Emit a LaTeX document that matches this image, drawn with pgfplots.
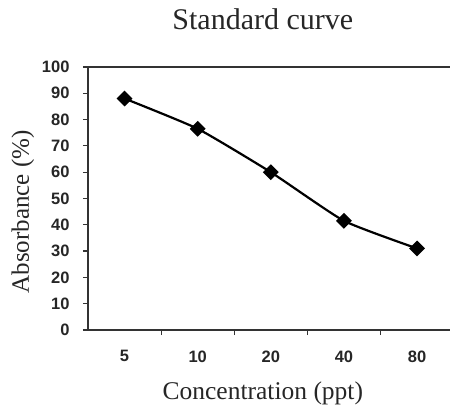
\documentclass[border=0pt]{standalone}
\usepackage{fontspec}
\setmainfont{Liberation Serif}
\newfontfamily\tickfont{Liberation Sans}
\usepackage{pgfplots}
\pgfplotsset{compat=1.18}
\begin{document}
\begin{tikzpicture}
\useasboundingbox (-88pt,-76pt) rectangle (364pt,330pt);
\begin{axis}[
  scale only axis, width=362pt, height=263pt,
  xmin=-0.5, xmax=4.45, ymin=0, ymax=100,
  axis x line*=bottom, axis y line*=left,
  axis line style={line width=1.3pt, black!80},
  clip=false,
  xtick={0.5,1.5,2.5,3.5}, xticklabels={},
  extra x ticks={0,1,2,3,4}, extra x tick labels={5,10,20,40,80},
  extra x tick style={major tick length=0pt},
  ytick={0,10,...,100},
  tick align=outside, major tick length=5pt,
  tick style={line width=1.2pt, black!80},
  /pgf/number format/assume math mode=true,
  ticklabel style={font=\tickfont\bfseries\fontsize{16.5}{16.5}\selectfont, text=black!85},
  yticklabel style={xshift=-10pt},
  xticklabel style={yshift=-17pt},
  title={Standard curve},
  title style={at={(axis description cs:0.483,1.16)}, anchor=center, font=\fontsize{30}{30}\selectfont, text=black!85},
  xlabel={Concentration (ppt)},
  xlabel style={at={(axis description cs:0.483,-0.24)}, anchor=center, font=\fontsize{25.5}{25.5}\selectfont, text=black!85},
  ylabel={Absorbance (\%)},
  ylabel style={at={(axis description cs:-0.18,0.449)}, anchor=center, rotate=0, font=\fontsize{25}{25}\selectfont, text=black!85},
]
\addplot[black, line width=2.2pt, smooth, tension=0.3, mark=square*, mark size=4.5pt, mark options={rotate=45, solid}] coordinates {
  (0,88) (1,76.5) (2,60) (3,41.5) (4,31)
};
\draw[line width=1.3pt, black!80] (axis cs:-0.5,100) -- (axis cs:4.45,100);
\end{axis}
\end{tikzpicture}
\end{document}
